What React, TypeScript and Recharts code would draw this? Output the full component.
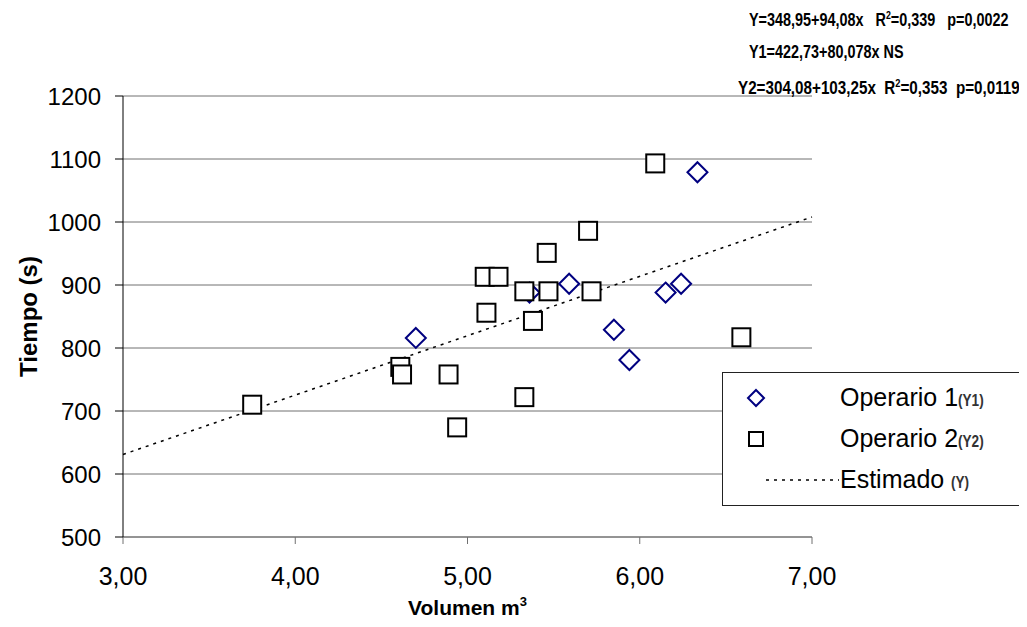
import { ScatterChart, Scatter, XAxis, YAxis, CartesianGrid } from 'recharts'

// Operario 1 (diamantes)
const operario1 = [
   { x: 4.70, y: 816 },
   { x: 5.36, y: 888 },
   { x: 5.59, y: 902 },
   { x: 5.85, y: 829 },
   { x: 5.94, y: 781 },
   { x: 6.15, y: 888 },
   { x: 6.24, y: 902 },
   { x: 6.335, y: 1079 },
]

// Operario 2 (cuadrados)
const operario2 = [
   { x: 3.75, y: 710 },
   { x: 4.61, y: 770 },
   { x: 4.62, y: 758 },
   { x: 4.89, y: 758 },
   { x: 4.94, y: 674 },
   { x: 5.10, y: 913 },
   { x: 5.18, y: 913 },
   { x: 5.11, y: 856 },
   { x: 5.33, y: 890 },
   { x: 5.33, y: 722 },
   { x: 5.38, y: 843 },
   { x: 5.46, y: 951 },
   { x: 5.47, y: 890 },
   { x: 5.70, y: 986 },
   { x: 5.72, y: 890 },
   { x: 6.09, y: 1093 },
   { x: 6.59, y: 817 },
]

// recta estimada (Y)
const estimado = [
   { x: 3, y: 631 },
   { x: 7, y: 1008 },
]

const xTicks = [3, 4, 5, 6, 7]
const yTicks = [500, 600, 700, 800, 900, 1000, 1100, 1200]

const FONT = '"Liberation Sans", Arial, sans-serif'

const Diamond = ({ cx, cy, r = 10 }: any) => (
   <path d={`M${cx} ${cy - r} L${cx + r} ${cy} L${cx} ${cy + r} L${cx - r} ${cy} Z`}
      fill='#fff' stroke='#000080' strokeWidth={2} />
)

const Square = ({ cx, cy, r = 9 }: any) => (
   <rect x={cx - r} y={cy - r} width={2 * r} height={2 * r} fill='#fff' stroke='#000' strokeWidth={2} />
)

const XTitle = ({ viewBox }: any) => (
   <text x={viewBox.x + viewBox.width / 2} y={viewBox.y + 78} textAnchor='middle'
      fontFamily={FONT} fontWeight='bold' fontSize={21} fill='#000'>
      Volumen m<tspan dy={-9} fontSize={13}>3</tspan>
   </text>
)

const YTitle = ({ viewBox }: any) => {
   const cx = 20
   const cy = viewBox.y + viewBox.height / 2
   return (
      <text x={cx} y={cy} transform={`rotate(-90, ${cx}, ${cy})`} textAnchor='middle' dominantBaseline='central'
         fontFamily={FONT} fontWeight='bold' fontSize={24} fill='#000'>
         Tiempo (s)
      </text>
   )
}

const eqStyle = {
   position: 'absolute' as const, fontSize: 18, fontWeight: 'bold' as const, lineHeight: '18px',
   whiteSpace: 'pre' as const, transform: 'scaleX(0.8)', transformOrigin: 'left center',
}
const sup = { fontSize: 11, position: 'relative' as const, top: -7 }
const small = { fontSize: 16, fontWeight: 'bold' as const, color: '#333', display: 'inline-block', transform: 'scaleX(0.85)', transformOrigin: 'left center' }
const row = { position: 'absolute' as const, left: 117, fontSize: 25, lineHeight: '30px', whiteSpace: 'pre' as const }

export default function App() {
   return (
      <div style={{ position: 'relative', width: 1011, height: 611, fontFamily: FONT }}>
         <ScatterChart width={1011} height={611} margin={{ top: 88, right: 207, bottom: 0, left: 0 }}>
            <CartesianGrid vertical={false} stroke='#707070' horizontalValues={yTicks} />
            <XAxis type='number' dataKey='x' domain={[3, 7]} ticks={xTicks} height={82}
               tickFormatter={(v: number) => v.toFixed(2).replace('.', ',')}
               stroke='#707070' tickSize={7} tickMargin={23}
               tick={{ fill: '#000', fontSize: 25, fontFamily: FONT }}
               label={{ content: XTitle }} />
            <YAxis type='number' dataKey='y' domain={[500, 1200]} ticks={yTicks} width={115}
               stroke='#000' tickSize={8} tickMargin={14}
               tick={{ fill: '#000', fontSize: 24, fontFamily: FONT }}
               label={{ content: YTitle }} />
            <Scatter data={estimado} isAnimationActive={false} legendType='none' shape={() => <g />}
               line={{ stroke: '#000', strokeWidth: 1.5, strokeDasharray: '3 5' }} lineType='joint' />
            <Scatter data={operario1} isAnimationActive={false} shape={Diamond} />
            <Scatter data={operario2} isAnimationActive={false} shape={Square} />
         </ScatterChart>

         <div style={{ ...eqStyle, left: 741, top: 3 }}>
            Y=348,95+94,08x   R<span style={sup}>2</span>=0,339   p=0,0022
         </div>
         <div style={{ ...eqStyle, left: 741, top: 35 }}>
            Y1=422,73+80,078x NS
         </div>
         <div style={{ ...eqStyle, left: 730, top: 71, transform: 'scaleX(0.845)' }}>
            Y2=304,08+103,25x  R<span style={sup}>2</span>=0,353  p=0,0119
         </div>

         <div style={{ position: 'absolute', left: 714, top: 364, width: 304, height: 134, boxSizing: 'border-box',
            border: '1px solid #222', background: '#fff' }}>
            <svg width={120} height={134} style={{ position: 'absolute', left: 0, top: 0 }}>
               <Diamond cx={33} cy={25} r={8} />
               <Square cx={33} cy={66} r={7} />
               <line x1={43} y1={107} x2={116} y2={107} stroke='#000' strokeWidth={1.5} strokeDasharray='3 5' />
            </svg>
            <div style={{ ...row, top: 9 }}>
               Operario 1<span style={small}>(Y1)</span>
            </div>
            <div style={{ ...row, top: 50 }}>
               Operario 2<span style={small}>(Y2)</span>
            </div>
            <div style={{ ...row, top: 91 }}>
               Estimado <span style={small}>(Y)</span>
            </div>
         </div>
      </div>
   )
}
